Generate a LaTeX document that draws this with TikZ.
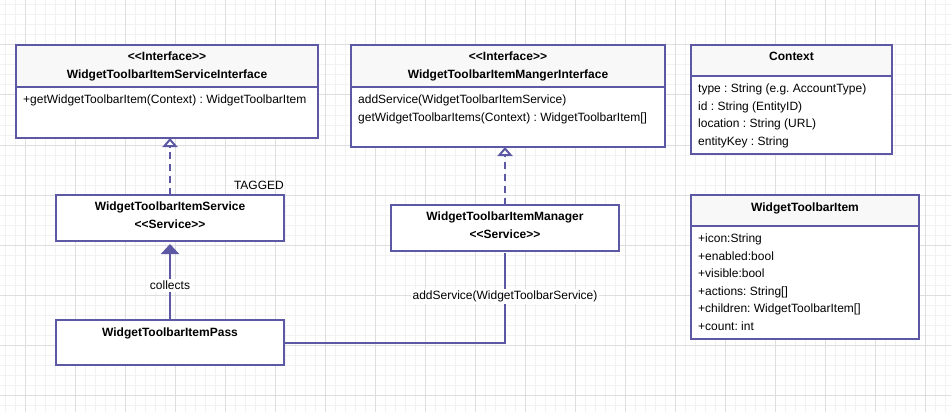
\documentclass[tikz,border=0pt]{standalone}
\usepackage{fontspec}
\newfontfamily\umlfont{Liberation Sans}
\usetikzlibrary{positioning,arrows.meta}
\definecolor{umlline}{RGB}{92,88,164}
\definecolor{headfill}{RGB}{248,248,248}
\definecolor{gridlo}{RGB}{242,242,242}
\definecolor{gridhi}{RGB}{222,222,222}
\frenchspacing
\tikzset{
  txt/.style={font=\umlfont\fontsize{12}{17.5}\selectfont},
  boxed/.style={draw=umlline,line width=2pt,fill=white,inner sep=0pt,outer sep=0pt,anchor=north west},
  head/.style={boxed,fill=headfill,font=\umlfont\bfseries\fontsize{12}{18}\selectfont,align=center},
  headone/.style={head,text height=9pt,text depth=8pt},%một dòng
  svcbox/.style={boxed,font=\umlfont\bfseries\fontsize{12}{18}\selectfont,align=center},
  members/.style={txt,align=left,anchor=north west,inner sep=0pt},
  conn/.style={draw=umlline,line width=2pt},
  realize/.style={conn,dash pattern=on 7pt off 5pt,-{Triangle[open,width=15pt,length=9pt]}},
  collect/.style={conn,shorten >=3pt,-{Triangle[width=18pt,length=10pt]}},
  edgelabel/.style={txt,fill=white,inner sep=2pt}
}
\begin{document}
\begin{tikzpicture}[x=1pt,y=-1pt]
  \useasboundingbox (0,0) rectangle (951,412);
  % lưới nền
  \foreach \x in {5,15,...,945} \draw[gridlo,line width=1pt] (\x,0)--(\x,412);
  \foreach \y in {5,15,...,405} \draw[gridlo,line width=1pt] (0,\y)--(951,\y);
  \foreach \x in {25,75,...,925} \draw[gridhi,line width=1pt] (\x,0)--(\x,412);
  \foreach \y in {45,95,...,395} \draw[gridhi,line width=1pt] (0,\y)--(951,\y);
  % interfaces
  \node[head,minimum width=302pt,minimum height=42pt] (siiHead) at (16,45) {<<Interface>>\\WidgetToolbarItemServiceInterface};
  \node[boxed,anchor=north,minimum width=302pt,minimum height=51pt] (siiBody) at (siiHead.south) {};
  \node[members] (siiOps) at ([shift={(7,8)}]siiBody.north west) {+getWidgetToolbarItem(Context) : WidgetToolbarItem};
  \node[head,minimum width=314pt,minimum height=42pt] (miHead) at (351,45) {<<Interface>>\\WidgetToolbarItemMangerInterface};
  \node[boxed,anchor=north,minimum width=314pt,minimum height=60pt] (miBody) at (miHead.south) {};
  \node[members] (miOps) at ([shift={(7,8)}]miBody.north west) {addService(WidgetToolbarItemService)\\getWidgetToolbarItems(Context) : WidgetToolbarItem[]};
  % data classes
  \node[headone,minimum width=201pt,minimum height=31pt] (ctxHead) at (691,45) {Context};
  \node[boxed,anchor=north,minimum width=201pt,minimum height=78pt] (ctxBody) at (ctxHead.south) {};
  \node[members] (ctxAttr) at ([shift={(7,8)}]ctxBody.north west) {type : String (e.g. AccountType)\\id : String (EntityID)\\location : String (URL)\\entityKey : String};
  \node[headone,minimum width=228pt,minimum height=31pt] (wtiHead) at (691,195) {WidgetToolbarItem};
  \node[boxed,anchor=north,minimum width=228pt,minimum height=113pt] (wtiBody) at (wtiHead.south) {};
  \node[members] (wtiAttr) at ([shift={(7,8)}]wtiBody.north west) {+icon:String\\+enabled:bool\\+visible:bool\\+actions: String[]\\+children: WidgetToolbarItem[]\\+count: int};
  % services
  \node[svcbox,minimum width=228pt,minimum height=46pt,text depth=5pt] (svc) at (56,195) {WidgetToolbarItemService\\<<Service>>};
  \node[svcbox,minimum width=228pt,minimum height=46pt,text depth=5pt] (mgr) at (391,205) {WidgetToolbarItemManager\\<<Service>>};
  \node[svcbox,minimum width=228pt,minimum height=45pt,text height=9pt,text depth=21pt] (pass) at (56,320) {WidgetToolbarItemPass};
  \node[txt,anchor=base east,inner sep=0pt] (tagged) at ([yshift=6pt]svc.north east) {TAGGED};
  % connectors
  \draw[realize] (svc.north)--(svc.north |- siiBody.south);
  \draw[realize] (mgr.north)--(mgr.north |- miBody.south);
  \draw[collect] (pass.north)-- node[edgelabel,pos=0.44] (collects) {collects} (svc.south);
  \draw[conn,shorten >=2pt] (pass.east) -| node[edgelabel,pos=0.75] (addsvc) {addService(WidgetToolbarService)} (mgr.south);
\end{tikzpicture}
\end{document}
